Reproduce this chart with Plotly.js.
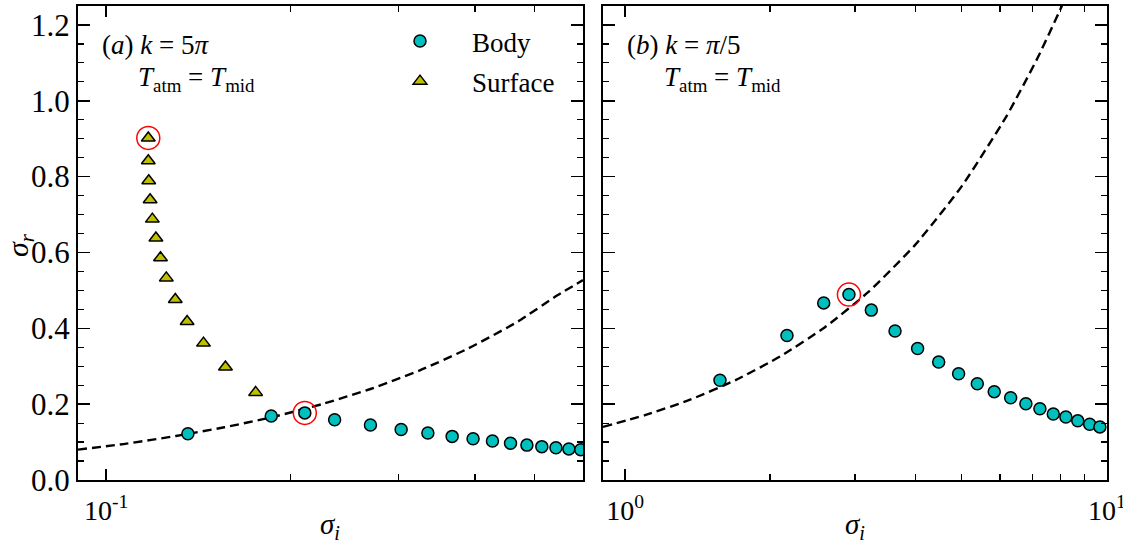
<!DOCTYPE html>
<html>
<head>
<meta charset="utf-8">
<script src="https://cdn.plot.ly/plotly-3.0.1.min.js"></script>
<style>
  html, body { margin: 0; padding: 0; background: #ffffff; }
  #chart { width: 1123px; height: 546px; }
</style>
</head>
<body>
<div id="chart"></div>
<script>
// Panel (a): k = 5π — surface modes (triangles) and body modes (circles)
const surfaceX = [0.1172, 0.1172, 0.1174, 0.1180, 0.1190, 0.1206, 0.1227, 0.1254, 0.1297, 0.1356, 0.1442, 0.1566, 0.1754];
const surfaceY = [0.902, 0.842, 0.789, 0.739, 0.688, 0.638, 0.586, 0.533, 0.476, 0.418, 0.361, 0.298, 0.231];

const bodyAX = [0.136, 0.186, 0.211, 0.236, 0.270, 0.303, 0.335, 0.367, 0.397, 0.427, 0.457, 0.486, 0.514, 0.542, 0.569, 0.595];
const bodyAY = [0.122, 0.169, 0.177, 0.159, 0.145, 0.133, 0.124, 0.115, 0.109, 0.103, 0.097, 0.092, 0.088, 0.085, 0.082, 0.080];

// Dashed reference curve in panel (a)
const curveAX = [0.09, 0.108, 0.13, 0.156, 0.187, 0.225, 0.27, 0.325, 0.39, 0.47, 0.545, 0.6];
const curveAY = [0.080, 0.096, 0.116, 0.139, 0.166, 0.200, 0.240, 0.289, 0.347, 0.418, 0.487, 0.527];

// Panel (b): k = π/5 — body modes
const bodyBX = [1.574, 2.168, 2.584, 2.915, 3.244, 3.633, 4.047, 4.476, 4.923, 5.383, 5.837, 6.313, 6.79, 7.26, 7.74, 8.22, 8.70, 9.21, 9.67];
const bodyBY = [0.263, 0.381, 0.467, 0.489, 0.448, 0.393, 0.347, 0.311, 0.280, 0.254, 0.233, 0.217, 0.201, 0.188, 0.174, 0.166, 0.156, 0.147, 0.140];

// Dashed reference curve in panel (b)
const curveBX = [0.9, 1.1, 1.36, 1.7, 2.1, 2.6, 3.2, 4.0, 5.0, 6.2, 7.2, 8.05, 8.6];
const curveBY = [0.140, 0.171, 0.211, 0.264, 0.326, 0.403, 0.496, 0.620, 0.775, 0.961, 1.116, 1.248, 1.333];

// Highlighted (circled) modes
const markedAX = [surfaceX[0], bodyAX[2]];
const markedAY = [surfaceY[0], bodyAY[2]];
const markedBX = [bodyBX[3]];
const markedBY = [bodyBY[3]];

// Tick labels
const yTickVals = [0, 0.2, 0.4, 0.6, 0.8, 1.0, 1.2];
const xTickValsA = [0.1];
const xTickTextA = ['10<sup>-1</sup>'];
const xMinorA = [0.2, 0.3, 0.4, 0.5, 0.6];
const xTickValsB = [1, 10];
const xTickTextB = ['10<sup>0</sup>', '10<sup>1</sup>'];
const xMinorB = [2, 3, 4, 5, 6, 7, 8, 9];

const CYAN = '#00bfbf';
const OLIVE = '#bfbf00';
const FONT = "'Liberation Serif', 'Times New Roman', serif";

const bodyMarker = { symbol: 'circle', size: 12, color: CYAN, line: { color: '#000', width: 1.5 } };
const surfMarker = { symbol: 'triangle-up', size: 12, color: OLIVE, line: { color: '#000', width: 1.5 } };
const ringMarker = { symbol: 'circle-open', size: 23, color: '#ff0000', line: { color: '#ff0000', width: 1.5 } };
const dashLine = { color: '#000', width: 2.4, dash: '9px,5px', shape: 'spline', smoothing: 0.5 };

const traces = [
  { x: curveAX, y: curveAY, xaxis: 'x', yaxis: 'y', mode: 'lines', line: dashLine, showlegend: false, hoverinfo: 'skip' },
  { x: bodyAX, y: bodyAY, xaxis: 'x', yaxis: 'y', mode: 'markers', name: 'Body', marker: bodyMarker, legendgroup: 'body' },
  { x: surfaceX, y: surfaceY, xaxis: 'x', yaxis: 'y', mode: 'markers', name: 'Surface', marker: surfMarker, legendgroup: 'surface' },
  { x: markedAX, y: markedAY, xaxis: 'x', yaxis: 'y', mode: 'markers', marker: ringMarker, showlegend: false },
  { x: curveBX, y: curveBY, xaxis: 'x2', yaxis: 'y2', mode: 'lines', line: dashLine, showlegend: false, hoverinfo: 'skip' },
  { x: bodyBX, y: bodyBY, xaxis: 'x2', yaxis: 'y2', mode: 'markers', name: 'Body', marker: bodyMarker, showlegend: false },
  { x: markedBX, y: markedBY, xaxis: 'x2', yaxis: 'y2', mode: 'markers', marker: ringMarker, showlegend: false }
];

const W = 1123, H = 546;
const px = v => v / W;
const py = v => (H - v) / H;

function xAxis(domain, range, tickvals, ticktext, minorVals) {
  return {
    type: 'log', domain: domain, range: range,
    tickmode: 'array', tickvals: tickvals, ticktext: ticktext,
    ticks: 'inside', ticklen: 11, tickwidth: 1.5, tickcolor: '#000',
    ticklabeloverflow: 'allow', ticklabelstandoff: 4,
    minor: { tickmode: 'array', tickvals: minorVals, ticks: 'inside', ticklen: 6, tickwidth: 1.2, tickcolor: '#000', showgrid: false },
    showline: true, linewidth: 2, linecolor: '#000', mirror: 'ticks',
    showgrid: false, zeroline: false, automargin: false,
    tickfont: { family: FONT, size: 28, color: '#000' }
  };
}
function yAxis(anchor, showLabels) {
  return {
    anchor: anchor, domain: [py(480), py(6)], range: [0, 1.25],
    tickmode: 'array', tickvals: yTickVals, tickformat: '.1f', showticklabels: showLabels,
    ticks: 'inside', ticklen: 12, tickwidth: 1.5, tickcolor: '#000',
    minor: { dtick: 0.05, ticks: 'inside', ticklen: 6, tickwidth: 1.2, tickcolor: '#000', showgrid: false },
    showline: true, linewidth: 2, linecolor: '#000', mirror: 'ticks',
    showgrid: false, zeroline: false, automargin: false,
    tickfont: { family: FONT, size: 31, color: '#000' }
  };
}

const ann = (x, y, text, extra) => Object.assign({
  xref: 'paper', yref: 'paper', x: x, y: y, text: text, showarrow: false,
  xanchor: 'left', yanchor: 'middle', font: { family: FONT, size: 27, color: '#000' }
}, extra || {});

const layout = {
  width: W, height: H,
  margin: { l: 0, r: 0, t: 0, b: 0 },
  paper_bgcolor: '#fff', plot_bgcolor: '#fff',
  font: { family: FONT, color: '#000' },
  xaxis: xAxis([px(78), px(583)], [Math.log10(0.09), Math.log10(0.6)], xTickValsA, xTickTextA, xMinorA),
  yaxis: yAxis('x', true),
  xaxis2: Object.assign(xAxis([px(603), px(1107)], [Math.log10(0.9), 1.0002], xTickValsB, xTickTextB, xMinorB), { anchor: 'y2' }),
  yaxis2: yAxis('x2', false),
  legend: {
    x: px(368), y: py(17), xanchor: 'left', yanchor: 'top',
    bgcolor: 'rgba(0,0,0,0)', borderwidth: 0,
    itemwidth: 94, tracegroupgap: 2,
    font: { family: FONT, size: 27, color: '#000' }
  },
  annotations: [
    ann(px(100), py(45), '(<i>a</i>) <i>k</i> = 5<i>π</i>'),
    ann(px(136), py(79), '<i>T</i><sub>atm</sub> = <i>T</i><sub>mid</sub>'),
    ann(px(625), py(45), '(<i>b</i>) <i>k</i> = <i>π</i>/5'),
    ann(px(662), py(79), '<i>T</i><sub>atm</sub> = <i>T</i><sub>mid</sub>'),
    ann(px(330), py(526), '<i>σ</i><sub><i>i</i></sub>', { xanchor: 'center', font: { family: FONT, size: 29, color: '#000' } }),
    ann(px(855), py(526), '<i>σ</i><sub><i>i</i></sub>', { xanchor: 'center', font: { family: FONT, size: 29, color: '#000' } }),
    ann(px(20), py(245), '<i>σ</i><sub><i>r</i></sub>', { xanchor: 'center', textangle: -90, font: { family: FONT, size: 30, color: '#000' } })
  ]
};

Plotly.newPlot('chart', traces, layout, { staticPlot: true, displayModeBar: false });
</script>
</body>
</html>
